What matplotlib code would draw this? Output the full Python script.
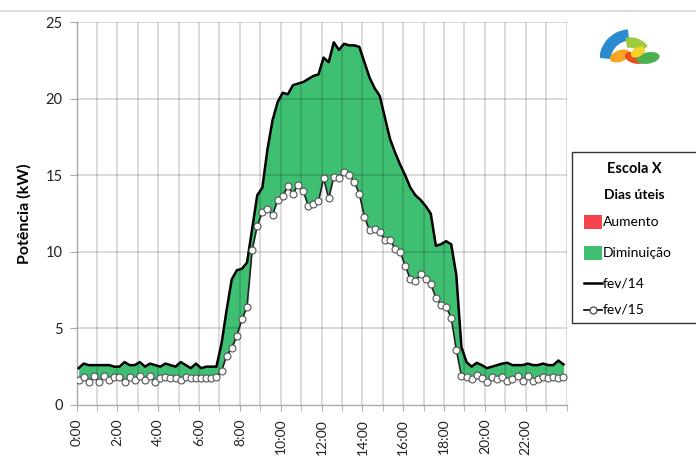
import numpy as np
import matplotlib
matplotlib.use("Agg")
import matplotlib.pyplot as plt
from matplotlib.patches import Rectangle, Wedge, Ellipse
from matplotlib.lines import Line2D

# ---- data (15-minute intervals, 0:00 .. 23:45) ----
fev14 = [2.4, 2.7, 2.6, 2.6, 2.6, 2.6, 2.6, 2.5, 2.5, 2.8, 2.6, 2.6,
         2.8, 2.5, 2.7, 2.6, 2.5, 2.7, 2.6, 2.5, 2.8, 2.6, 2.4, 2.7,
         2.4, 2.5, 2.5, 2.5, 4.0, 6.2, 8.2, 8.8, 8.9, 9.3, 11.5, 13.7,
         14.2, 16.7, 18.6, 19.8, 20.4, 20.3, 20.9, 21.0, 21.1, 21.3, 21.5, 21.6,
         22.7, 22.4, 23.7, 23.2, 23.6, 23.5, 23.5, 23.4, 22.4, 21.4, 20.7, 20.2,
         18.8, 17.4, 16.5, 15.7, 15.0, 14.2, 13.7, 13.4, 13.0, 12.5, 10.4, 10.5,
         10.7, 10.5, 8.5, 3.8, 2.8, 2.5, 2.75, 2.6, 2.4, 2.5, 2.6, 2.7,
         2.75, 2.6, 2.6, 2.6, 2.7, 2.6, 2.6, 2.7, 2.6, 2.6, 2.9, 2.65]

fev15 = [1.62, 1.84, 1.51, 1.88, 1.51, 1.88, 1.62, 1.84, 1.84, 1.51, 1.84, 1.62,
         1.88, 1.62, 1.88, 1.51, 1.73, 1.84, 1.73, 1.73, 1.62, 1.84, 1.73, 1.73,
         1.73, 1.73, 1.73, 1.84, 2.21, 3.21, 3.69, 4.52, 5.59, 6.41, 10.1, 11.7,
         12.6, 12.8, 12.4, 13.4, 13.65, 14.3, 13.8, 14.4, 14.0, 13.0, 13.1, 13.3,
         14.8, 13.5, 14.9, 14.8, 15.2, 15.0, 14.6, 13.8, 12.3, 11.4, 11.5, 11.3,
         10.8, 10.8, 10.2, 10.0, 9.1, 8.2, 8.1, 8.55, 8.2, 7.9, 7.0, 6.55,
         6.4, 5.7, 3.6, 1.9, 1.8, 1.7, 1.95, 1.73, 1.49, 1.8, 1.7, 1.85,
         1.55, 1.7, 1.9, 1.55, 1.9, 1.55, 1.7, 1.8, 1.73, 1.8, 1.73, 1.85]

tick_hours = list(range(0, 24, 2))
tick_labels = [f"{h}:00" for h in tick_hours]
yticks = [0, 5, 10, 15, 20, 25]

legend_title = "Escola X"
legend_subtitle = "Dias úteis"
legend_labels = ["Aumento", "Diminuição", "fev/14", "fev/15"]

GREEN = "#3FBF72"
RED = "#F7434B"

plt.rcParams['font.family'] = ['Lato', 'DejaVu Sans']

x = np.arange(len(fev14)) * 0.25 + 0.1
a = np.array(fev14)
b = np.array(fev15)

fig = plt.figure(figsize=(6.96, 4.57), dpi=100)
ax = fig.add_axes([0.110, 0.114, 0.704, 0.837])

ax.fill_between(x, b, a, where=a >= b, interpolate=True, color=GREEN, lw=0, zorder=2)
ax.fill_between(x, b, a, where=a < b, interpolate=True, color=RED, lw=0, zorder=2)
ax.plot(x, a, color="black", lw=1.8, zorder=4)
ax.plot(x, b, color="#222222", lw=1.2, marker="o", ms=5, mfc="white",
        mec="#555555", mew=0.8, zorder=5)

ax.set_xlim(0, 24)
ax.set_ylim(0, 25)
ax.set_yticks(yticks)
ax.set_xticks(tick_hours)
ax.set_xticklabels(tick_labels, rotation=90, fontsize=10, color="#222222")
ax.set_xticks(range(0, 25), minor=True)
ax.tick_params(axis='x', which='both', length=4, color="#AAAAAA", direction='out', pad=6)
ax.tick_params(axis='y', length=5, color="#AAAAAA", labelsize=10.5, labelcolor="#222222", pad=5)

for h in range(1, 25):
    ax.axvline(h, color="black", alpha=0.18, lw=1.1, zorder=3)
for yv in yticks[1:]:
    ax.axhline(yv, color="black", alpha=0.18, lw=1.1, zorder=3)

for s in ["top", "right"]:
    ax.spines[s].set_visible(False)
for s in ["left", "bottom"]:
    ax.spines[s].set_color("#AAAAAA")
    ax.spines[s].set_linewidth(1.0)
ax.set_ylabel("Potência (kW)", fontsize=11.5, fontweight="bold", labelpad=10)

# top border line
fig.add_artist(Line2D([0, 1], [0.975, 0.975], transform=fig.transFigure, color="#DDDDDD", lw=1.5))

# legend box
lx0 = 572 / 696
ly0 = 1 - 323 / 457
ly1 = 1 - 152 / 457
fig.add_artist(Rectangle((lx0, ly0), 0.3, ly1 - ly0, transform=fig.transFigure,
                         fill=True, facecolor="white", edgecolor="#333333", lw=1.0))
cx = 634 / 696
fig.text(cx, 1 - 169 / 457, legend_title, ha="center", va="center", fontsize=10.5, fontweight="bold")
fig.text(cx, 1 - 195 / 457, legend_subtitle, ha="center", va="center", fontsize=10, fontweight="bold")
rows = [222, 253, 283, 310]
sx0, sx1 = 584 / 696, 602 / 696
tx = 603 / 696
for i, (lab, yy) in enumerate(zip(legend_labels, rows)):
    yf = 1 - yy / 457
    if i < 2:
        fig.add_artist(Rectangle((sx0, yf - 0.016), sx1 - sx0, 0.032, transform=fig.transFigure,
                                 facecolor=[RED, GREEN][i], edgecolor="none"))
    elif i == 2:
        fig.add_artist(Line2D([sx0, sx1], [yf, yf], transform=fig.transFigure, color="black", lw=1.8))
    else:
        fig.add_artist(Line2D([sx0, sx1], [yf, yf], transform=fig.transFigure, color="black", lw=1.2))
        fig.add_artist(Line2D([(sx0 + sx1) / 2], [yf], transform=fig.transFigure, color="black", lw=0,
                              marker="o", ms=5, mfc="white", mec="#555555"))
    fig.text(tx, yf, lab, ha="left", va="center", fontsize=10)

# simple logo
lax = fig.add_axes([600 / 696, 1 - 68 / 457, 62 / 696, 42 / 457])
lax.set_xlim(0, 62)
lax.set_ylim(0, 42)
lax.axis("off")
lax.add_patch(Wedge((30, 8), 30, 95, 175, width=10, color="#2A8BD0"))
lax.add_patch(Wedge((30, 8), 22, 40, 100, width=9, color="#9CCB3B"))
lax.add_patch(Ellipse((20, 12), 20, 10, angle=20, color="#F5A623"))
lax.add_patch(Ellipse((34, 10), 18, 9, angle=-20, color="#E84E1B"))
lax.add_patch(Ellipse((48, 10), 22, 10, angle=10, color="#4CAF50"))
lax.add_patch(Ellipse((38, 16), 14, 8, angle=30, color="#F6D328"))

fig.savefig("out.png", dpi=100)
